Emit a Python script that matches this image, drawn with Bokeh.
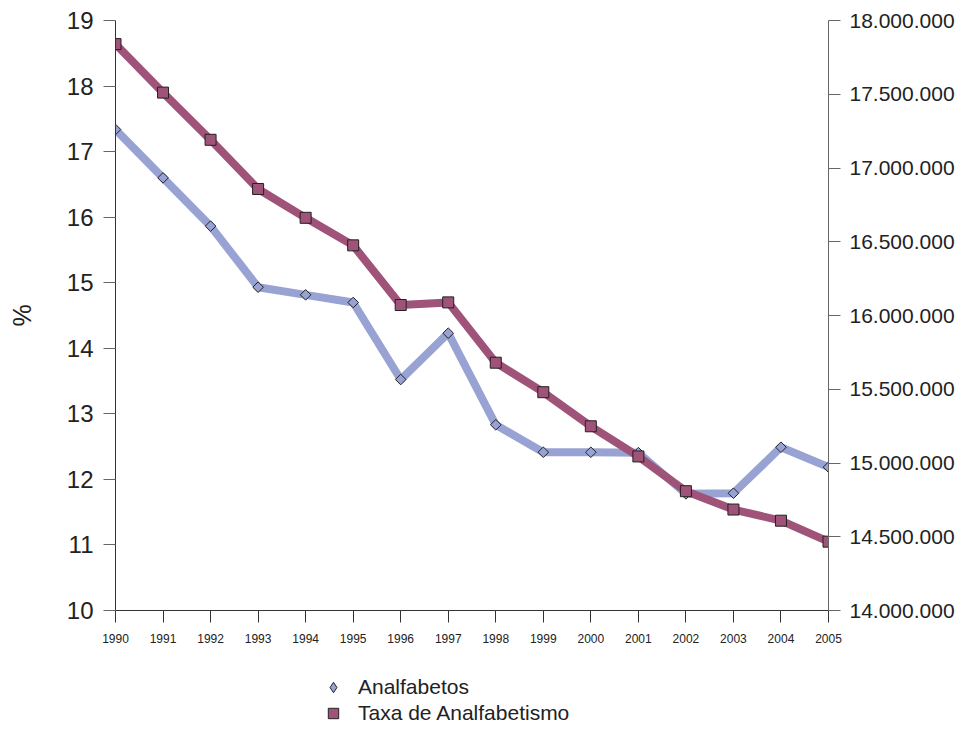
from bokeh.plotting import figure
from bokeh.layouts import column
from bokeh.models import Range1d, LinearAxis, FixedTicker, CustomJSTickFormatter, Legend, LegendItem, ColumnDataSource
from bokeh.embed import file_html
from bokeh.resources import INLINE

years = list(range(1990, 2006))
taxa = [18.64, 17.90, 17.18, 16.43, 15.99, 15.57, 14.66, 14.70,
        13.78, 13.33, 12.81, 12.35, 11.82, 11.54, 11.37, 11.05]
analfabetos = [17261000, 16933000, 16606000, 16192000, 16140000, 16088000, 15566000, 15880000,
               15259000, 15073000, 15073000, 15070000, 14791000, 14795000, 15107000, 14972000]
left_ticks = list(range(10, 20))
right_ticks = [14000000, 14500000, 15000000, 15500000, 16000000, 16500000, 17000000, 17500000, 18000000]

src = ColumnDataSource(dict(year=years, taxa=taxa, anal=analfabetos))

FONT = "Liberation Sans"
BLUE = "#98A3D4"
MAROON = "#A05378"
AXIS = "#333333"

p = figure(width=963, height=650, output_backend="svg", toolbar_location=None,
           x_range=Range1d(1990, 2005), y_range=Range1d(10, 19),
           min_border_left=115, min_border_right=135, min_border_top=20, min_border_bottom=40)
p.extra_y_ranges = {"right": Range1d(14000000, 18000000)}
p.outline_line_color = None
p.grid.visible = False
p.background_fill_color = "white"

# x axis
xa = p.xaxis[0]
xa.ticker = FixedTicker(ticks=years)
xa.major_tick_out = 12
xa.major_tick_in = 0
xa.minor_tick_line_color = None
xa.axis_line_color = AXIS
xa.major_tick_line_color = AXIS
xa.major_label_text_font = FONT
xa.major_label_text_font_size = "12px"
xa.major_label_text_color = "#222222"
xa.major_label_standoff = 11

# left axis
ya = p.yaxis[0]
ya.ticker = FixedTicker(ticks=left_ticks)
ya.major_tick_out = 12
ya.major_tick_in = 0
ya.minor_tick_line_color = None
ya.axis_line_color = AXIS
ya.major_tick_line_color = "#666666"
ya.major_label_text_font = FONT
ya.major_label_text_font_size = "24px"
ya.major_label_text_color = "#222222"
ya.major_label_standoff = 10
ya.axis_label = "%"
ya.axis_label_text_font = FONT
ya.axis_label_text_font_size = "25px"
ya.axis_label_text_font_style = "normal"
ya.axis_label_text_color = "#222222"
ya.axis_label_standoff = 28

# right axis
ra = LinearAxis(y_range_name="right")
ra.ticker = FixedTicker(ticks=right_ticks)
ra.formatter = CustomJSTickFormatter(code="return Math.round(tick).toString().replace(/\\B(?=(\\d{3})+(?!\\d))/g, '.');")
ra.major_tick_out = 12
ra.major_tick_in = 0
ra.minor_tick_line_color = None
ra.axis_line_color = "#666666"
ra.major_tick_line_color = "#666666"
ra.major_label_text_font = FONT
ra.major_label_text_font_size = "21px"
ra.major_label_text_color = "#222222"
ra.major_label_standoff = 9
p.add_layout(ra, "right")

# series
p.line("year", "anal", source=src, y_range_name="right", line_color=BLUE, line_width=8)
p.scatter("year", "anal", source=src, y_range_name="right", marker="square", angle=0.785398,
          size=7.5, fill_color=BLUE, line_color="#222222", line_width=1)
p.line("year", "taxa", source=src, line_color=MAROON, line_width=8)
p.scatter("year", "taxa", source=src, marker="square", size=11,
          fill_color=MAROON, line_color="#222222", line_width=1)

# legend strip below the chart
lg = figure(width=963, height=79, output_backend="svg", toolbar_location=None,
            x_range=Range1d(1990, 2005), y_range=Range1d(14000000, 18000000),
            x_axis_type=None, y_axis_type=None,
            min_border_left=0, min_border_right=0, min_border_top=0, min_border_bottom=0)
lg.outline_line_color = None
lg.grid.visible = False
leg_anal = lg.scatter("year", "anal", source=src, marker="diamond", size=11,
                      fill_color=BLUE, line_color="#222222", line_width=1, visible=False)
leg_taxa = lg.scatter("year", "taxa", source=src, marker="square", size=11,
                      fill_color=MAROON, line_color="#222222", line_width=1, visible=False)

legend = Legend(items=[LegendItem(label="Analfabetos", renderers=[leg_anal]),
                       LegendItem(label="Taxa de Analfabetismo", renderers=[leg_taxa])],
                location=(200, 3), orientation="vertical")
legend.padding = 0
legend.margin = 0
legend.border_line_color = None
legend.background_fill_alpha = 0
legend.inactive_fill_alpha = 0
legend.glyph_width = 36
legend.glyph_height = 26
legend.label_height = 26
legend.spacing = 0
legend.label_standoff = 7
legend.label_text_font = FONT
legend.label_text_font_size = "21px"
legend.label_text_color = "#222222"
lg.add_layout(legend, "center")

layout = column(p, lg, spacing=0)
open("out.html", "w").write(file_html(layout, INLINE))
